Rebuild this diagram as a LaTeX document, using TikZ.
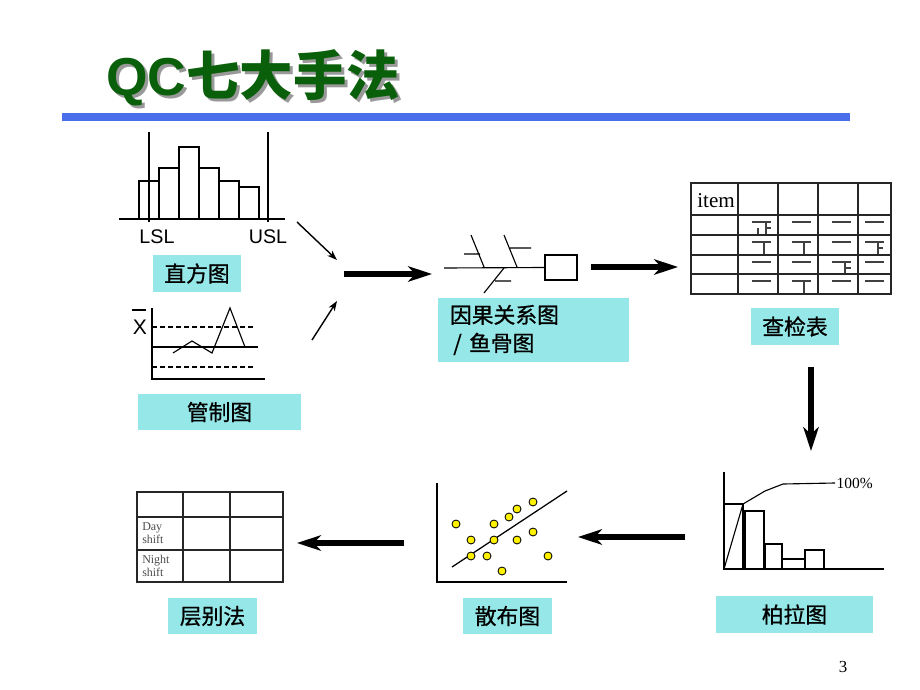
\documentclass[tikz,border=0pt]{standalone}
\usepackage{fontspec}
\setmainfont{Liberation Serif}
\newfontfamily\cjk{Noto Sans CJK SC}
\newfontfamily\cjklabel[FakeBold=0.8]{Noto Sans CJK SC}
\newfontfamily\arial{Liberation Sans}
\usetikzlibrary{arrows.meta}
\definecolor{labelcyan}{RGB}{150,232,232}
\definecolor{titlegreen}{RGB}{10,95,10}
\definecolor{barblue}{RGB}{75,110,235}
\tikzset{
LABEL/.style={fill=labelcyan, draw=none, inner sep=0pt, font=\cjklabel\fontsize{15.5}{19}\selectfont},
BIGARROW/.style={line width=4pt, -{Stealth[length=17pt,width=11pt,inset=5pt]}},
THINARROW/.style={line width=1pt, -{Stealth[length=7pt,width=5pt,inset=2pt]}},
AXIS/.style={draw=black, line width=1pt},
BAR/.style={draw=black, line width=0.8pt, fill=white},
GRID/.style={draw=black!85, line width=1pt},
TALLY/.style={draw=black!75, line width=0.8pt},
DOT/.style={draw=black, line width=0.6pt, fill=yellow},
TITLE/.style={anchor=west, inner sep=0pt, font=\fontsize{38}{40}\selectfont},
}

\begin{document}
\begin{tikzpicture}[x=0.025cm, y=-0.025cm] % 1 unit = 1 px of the slide
	\useasboundingbox (0,0) rectangle (920,690);
	% title
	\node[TITLE, text=black!40] at (109,81) {{\arial\bfseries QC}{\cjk\bfseries 七大手法}};
	\node[TITLE, text=titlegreen] (title) at (106,78) {{\arial\bfseries QC}{\cjk\bfseries 七大手法}};
	\fill[barblue] (62,113) rectangle (850,121);

	% histogram
	\foreach \xa/\ya in {139/181,159/168,179/147,199/168,219/181,239/187}
		\path[BAR] (\xa,\ya) rectangle (\xa+20,219);
	\draw[line width=1.6pt] (119,219) -- (285,219);
	\draw[line width=1.6pt] (149,132) -- (149,222);
	\draw[line width=1.6pt] (268,132) -- (268,222);
	\node[font=\arial\fontsize{14}{16}\selectfont] (lsl) at (157,237) {LSL};
	\node[font=\arial\fontsize{14}{16}\selectfont] (usl) at (268,237) {USL};
	\node[LABEL, minimum width=2.2cm, minimum height=0.925cm] (hist) at (197,273.5) {直方图};

	% control chart
	\draw[AXIS] (152,308) -- (152,379) -- (265,379);
	\draw[dash pattern=on 3.5pt off 2.2pt, line width=0.8pt] (152,327) -- (256,327);
	\draw[line width=1pt] (152,347) -- (258,347);
	\draw[dash pattern=on 3.5pt off 2.2pt, line width=0.8pt] (152,367) -- (256,367);
	\draw[line width=0.8pt] (173,353) -- (192,341) -- (212,353) -- (230,308) -- (245,347);
	\node[font=\arial\fontsize{15}{17}\selectfont, inner sep=0pt] (xbar) at (140,327) {X};
	\draw[line width=0.8pt] (132,310) -- (146,310);
	\node[LABEL, minimum width=4.075cm, minimum height=0.9cm] (ctrl) at (219.5,412) {管制图};

	% fishbone
	\node[draw, line width=0.8pt, minimum width=0.8cm, minimum height=0.625cm] (head) at (561,267.5) {};
	\draw[line width=0.8pt] (444,268) -- (head.west);
	\draw[line width=0.8pt] (471,235) -- (484,267) (464,254) -- (480,254);
	\draw[line width=0.8pt] (504,235) -- (517,267) (510,248) -- (531,248);
	\draw[line width=0.8pt] (504,268) -- (484,293) (495,281) -- (511,281);
	\node[LABEL, minimum width=4.775cm, minimum height=1.6cm, align=left, text width=4.175cm] (fish) at (533.5,330)
		{因果关系图\\[1pt]\hspace{0.15em}/ 鱼骨图};

	% check sheet
	\draw[GRID] (691,183) rectangle (891,294);
	\foreach \xa in {738,778,818,858}
		\draw[GRID] (\xa,183) -- (\xa,294);
	\foreach \ya in {215,235,255,274}
		\draw[GRID] (691,\ya) -- (891,\ya);
	\node[anchor=base west, inner sep=0pt, font=\fontsize{15}{17}\selectfont] (item) at (697,207) {item};
	\foreach \ya in {222,242,262,281}
		\foreach \xa in {752,792,832,865}
			\draw[TALLY] (\xa,\ya) -- ++(19,0);
	\draw[TALLY] (766,222) -- (766,234) (766,228) -- (771,228) (758,228) -- (758,234);
	\draw[TALLY] (764,242) -- (764,254) (804,242) -- (804,254);
	\draw[TALLY] (878,242) -- (878,254) (878,248) -- (883,248);
	\draw[TALLY] (845,262) -- (845,273) (845,268) -- (851,268);
	\draw[TALLY] (804,281) -- (804,293);
	\node[LABEL, minimum width=2.2cm, minimum height=0.925cm] (check) at (795,326.5) {查检表};

	% pareto
	\foreach \xa/\xb/\ya in {724/743/504,745/764/511,765/782/544,782/805/559,805/824/550}
		\path[BAR] (\xa,\ya) rectangle (\xb,569);
	\draw[AXIS] (724,472) -- (724,569) -- (884,569);
	\draw[line width=0.8pt] (724,569) -- (743,504) -- (765,491) -- (783,484) -- (835,483);
	\node[anchor=west, inner sep=1pt, font=\fontsize{11}{13}\selectfont] (pct) at (835,483) {100\%};
	\node[LABEL, minimum width=3.925cm, minimum height=0.925cm] (pareto) at (794.5,614.5) {柏拉图};

	% scatter
	\draw[AXIS] (437,483) -- (437,582) -- (567,582);
	\draw[line width=0.9pt] (452,567) -- (567,491);
	\foreach \xa/\ya in {456/524,471/540,471/556,487/556,494/524,494/540,502/571,509/517,517/509,517/540,533/502,533/532,548/556}
		\path[DOT] (\xa,\ya) circle (4);
	\node[LABEL, minimum width=2.225cm, minimum height=0.9cm] (scatter) at (507.5,616) {散布图};

	% stratification
	\draw[GRID] (137,492) rectangle (283,582);
	\draw[GRID] (183,492) -- (183,582) (230,492) -- (230,582);
	\draw[GRID] (137,517) -- (283,517) (137,550) -- (283,550);
	\node[anchor=north west, inner sep=0pt, align=left, text=black!70, font=\fontsize{8.5}{9.5}\selectfont] (day) at (142,522) {Day\\shift};
	\node[anchor=north west, inner sep=0pt, align=left, text=black!70, font=\fontsize{8.5}{9.5}\selectfont] (night) at (142,555) {Night\\shift};
	\node[LABEL, minimum width=2.225cm, minimum height=0.9cm] (strat) at (212.5,616) {层别法};

	% flow arrows
	\coordinate (in1) at (297,222); \coordinate (out1) at (337,260);
	\coordinate (in2) at (312,340); \coordinate (out2) at (337,301);
	\coordinate (a1) at (344,274); \coordinate (b1) at (432,274);
	\coordinate (a2) at (591,267); \coordinate (b2) at (678,267);
	\coordinate (a3) at (811,367); \coordinate (b3) at (811,451);
	\coordinate (a4) at (685,537); \coordinate (b4) at (578,537);
	\coordinate (a5) at (404,543); \coordinate (b5) at (297,543);
	\draw[THINARROW] (in1) -- (out1);
	\draw[THINARROW] (in2) -- (out2);
	\draw[BIGARROW] (a1) -- (b1);
	\draw[BIGARROW] (a2) -- (b2);
	\draw[BIGARROW] (a3) -- (b3);
	\draw[BIGARROW] (a4) -- (b4);
	\draw[BIGARROW] (a5) -- (b5);

	\node[font=\fontsize{12}{14}\selectfont] (page) at (843,667) {3};
\end{tikzpicture}
\end{document}
